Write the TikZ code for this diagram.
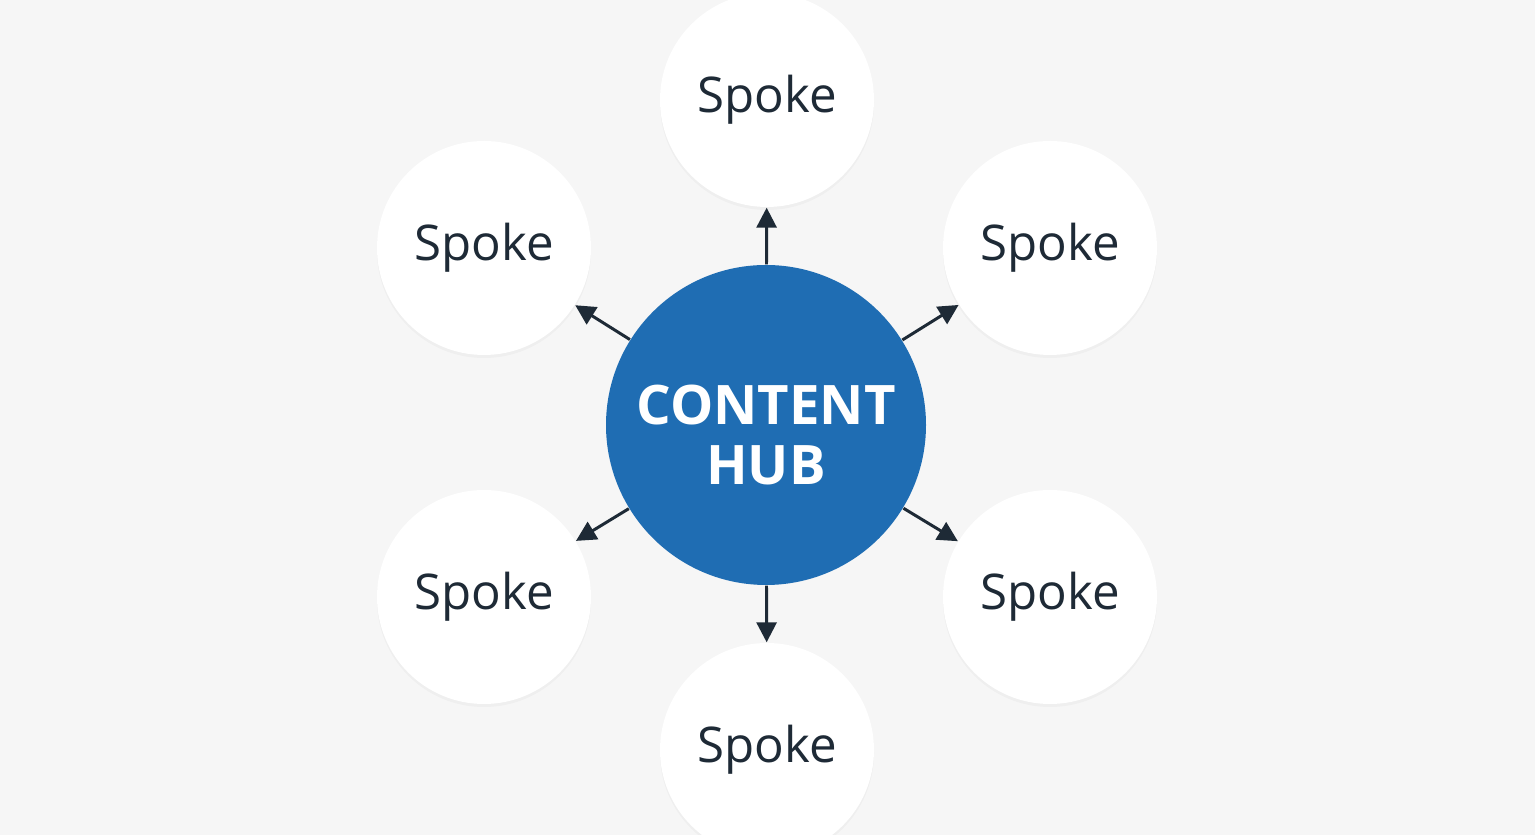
\documentclass[tikz,border=0pt]{standalone}
\usepackage{fontspec}
\setmainfont{Open Sans}
\usetikzlibrary{arrows.meta, shadows}
\definecolor{hubblue}{HTML}{1F6DB3}
\definecolor{inkdark}{HTML}{1E2A36}
\definecolor{paper}{HTML}{F6F6F6}
\tikzset{
  hub/.style={circle, fill=hubblue, minimum size=3.2cm, text=white,
    font=\fontsize{15.5}{18}\selectfont\bfseries, align=center, inner sep=0pt},
  spoke/.style={circle, fill=white, minimum size=2.14cm, text=inkdark,
    font=\fontsize{14}{17}\selectfont, inner sep=0pt,
    drop shadow={shadow xshift=0pt, shadow yshift=-0.03cm, opacity=0.06}},
  link/.style={draw=inkdark, line width=0.85pt, -{Triangle[length=0.2cm, width=0.2cm]}}
}
\begin{document}
\begin{tikzpicture}
  % background
  \fill[paper] (0, 0) rectangle (15.35, 8.35);
  \useasboundingbox (0, 0) rectangle (15.35, 8.35);

  % Hub
  \node[hub] (hub) at (7.66, 4.10) {};
  \node[text=white, font=\fontsize{15.5}{18}\selectfont\bfseries, align=center]
    (hubtext) at (7.66, 4.00) {CONTENT\\[-1pt]HUB};

  % Spokes
  \node[spoke] (top) at (7.67, 7.35) {Spoke};
  \node[spoke] (upleft) at (4.84, 5.87) {Spoke};
  \node[spoke] (upright) at (10.50, 5.87) {Spoke};
  \node[spoke] (lowleft) at (4.84, 2.38) {Spoke};
  \node[spoke] (lowright) at (10.50, 2.38) {Spoke};
  \node[spoke] (bottom) at (7.67, 0.85) {Spoke};

  % Links
  \foreach \s in {top, upleft, upright, lowleft, lowright, bottom}
    \draw[link] (hub) -- (\s);
\end{tikzpicture}
\end{document}
